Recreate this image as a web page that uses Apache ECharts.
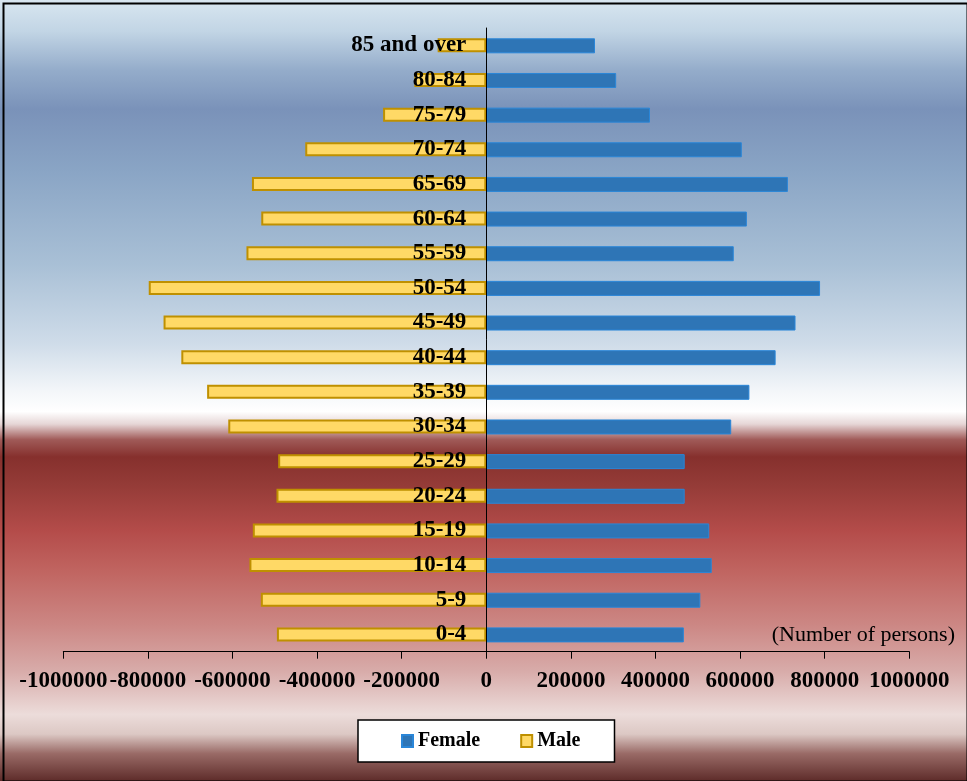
<!DOCTYPE html>
<html>
<head>
<meta charset="utf-8">
<script src="https://cdn.jsdelivr.net/npm/echarts@6/dist/echarts.min.js"></script>
<style>
html,body{margin:0;padding:0;background:#fff;}
#chart{width:967px;height:781px;}
</style>
</head>
<body>
<div id="chart"></div>
<script>
const categories = ['0-4','5-9','10-14','15-19','20-24','25-29','30-34','35-39','40-44','45-49','50-54','55-59','60-64','65-69','70-74','75-79','80-84','85 and over'];
const femaleValues = [467000, 506000, 533000, 527000, 469000, 469000, 579000, 622000, 684000, 731000, 789000, 585000, 616000, 713000, 604000, 387000, 307000, 257000];
const maleValues = [-495000, -533000, -560000, -552000, -496000, -492000, -610000, -660000, -721000, -763000, -798000, -567000, -532000, -554000, -428000, -244000, -170000, -115000];
const xTicks = [-1000000, -800000, -600000, -400000, -200000, 0, 200000, 400000, 600000, 800000, 1000000];
const unitLabel = '(Number of persons)';
const legendNames = ['Female', 'Male'];

const serif = 'Liberation Serif';
const chart = echarts.init(document.getElementById('chart'), null, {renderer: 'canvas'});

const gridLeft = 63.3, gridRight = 57.7;
const gridWidth = 967 - gridLeft - gridRight;
const zeroOffset = gridWidth * (0 - xTicks[0]) / (xTicks[xTicks.length - 1] - xTicks[0]);

const bg = {
  type: 'linear', x: 0, y: 0, x2: 0, y2: 1,
  colorStops: [
    {offset: 0.00, color: '#d8e6f0'},
    {offset: 0.04, color: '#c2d5e5'},
    {offset: 0.09, color: '#94acca'},
    {offset: 0.14, color: '#7a92b9'},
    {offset: 0.22, color: '#8aa5c5'},
    {offset: 0.34, color: '#a9c0d6'},
    {offset: 0.44, color: '#cfdce9'},
    {offset: 0.50, color: '#f3f6f9'},
    {offset: 0.527, color: '#ffffff'},
    {offset: 0.543, color: '#e6d6d6'},
    {offset: 0.563, color: '#a05a58'},
    {offset: 0.585, color: '#86302d'},
    {offset: 0.62, color: '#943b37'},
    {offset: 0.68, color: '#b44c4a'},
    {offset: 0.73, color: '#c06460'},
    {offset: 0.80, color: '#cc8784'},
    {offset: 0.86, color: '#d8acaa'},
    {offset: 0.915, color: '#ecdcda'},
    {offset: 0.94, color: '#dcc8c4'},
    {offset: 0.965, color: '#996a66'},
    {offset: 1.00, color: '#5e2c2a'}
  ]
};

chart.setOption({
  backgroundColor: bg,
  animation: false,
  grid: {left: gridLeft, right: gridRight, top: 28, bottom: 129.3, containLabel: false, outerBoundsMode: 'none'},
  xAxis: {
    type: 'value',
    min: xTicks[0],
    max: xTicks[xTicks.length - 1],
    interval: xTicks[1] - xTicks[0],
    splitLine: {show: false},
    axisLine: {show: true, onZero: false, lineStyle: {color: '#000', width: 1}},
    axisTick: {show: true, inside: false, length: 7, lineStyle: {color: '#000', width: 1}},
    axisLabel: {
      show: true, margin: 18, color: '#000',
      fontFamily: serif, fontWeight: 'bold', fontSize: 23,
      formatter: function (v) { return String(v); }
    }
  },
  yAxis: {
    type: 'category',
    data: categories,
    position: 'left',
    offset: -zeroOffset,
    z: 10,
    axisLine: {show: true, onZero: false, lineStyle: {color: '#000', width: 1}},
    axisTick: {show: false},
    splitLine: {show: false},
    axisLabel: {
      show: true, margin: 20, color: '#000',
      fontFamily: serif, fontWeight: 'bold', fontSize: 23
    }
  },
  legend: {
    data: legendNames,
    left: 358, top: 720,
    orient: 'horizontal',
    itemWidth: 11, itemHeight: 12, itemGap: 40,
    padding: [11, 34, 11, 43],
    backgroundColor: '#ffffff',
    borderColor: '#000000',
    borderWidth: 1.5,
    borderRadius: 0,
    icon: 'rect',
    textStyle: {fontFamily: serif, fontWeight: 'bold', fontSize: 20, color: '#000'}
  },
  series: [
    {
      name: legendNames[0],
      type: 'bar',
      data: femaleValues,
      barWidth: 15,
      barGap: '-100%',
      itemStyle: {color: '#2e75b6', borderColor: '#2a86d8', borderWidth: 1}
    },
    {
      name: legendNames[1],
      type: 'bar',
      data: maleValues,
      barWidth: 14,
      barGap: '-100%',
      itemStyle: {color: '#ffd966', borderColor: '#bf9000', borderWidth: 2}
    }
  ],
  graphic: [
    {
      type: 'text', right: 12, top: 624, z: 10,
      style: {text: unitLabel, font: '22px "Liberation Serif"', fill: '#000'}
    },
    {
      type: 'rect', left: 1, top: 1, z: 100, silent: true,
      shape: {x: 0, y: 0, width: 964, height: 778},
      style: {fill: 'none', stroke: '#000', lineWidth: 2}
    }
  ]
});
</script>
</body>
</html>
